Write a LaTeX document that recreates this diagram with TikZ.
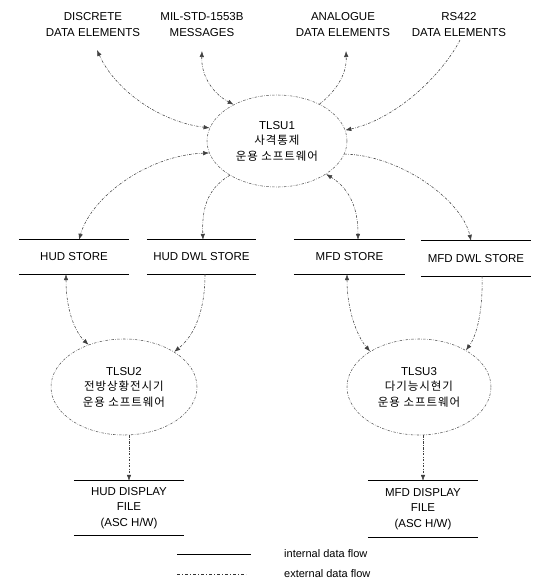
\documentclass[tikz,border=0pt]{standalone}
\usepackage{fontspec}
\setmainfont{Liberation Sans}
\newfontfamily\kr[LetterSpace=8]{Noto Sans CJK KR}
\usetikzlibrary{arrows.meta,shapes.geometric}
\begin{document}
\begin{tikzpicture}[x=1pt,y=-1pt,
  >={Latex[length=6pt,width=4.5pt]},
  ext/.style={line width=0.55pt,dash pattern=on 2.5pt off 1.4pt on 0.6pt off 1.4pt},
  flow/.style={draw=black!75,ext},
  lbl/.style={align=center,font=\fontsize{11.5}{16}\selectfont,inner sep=0pt},
  proc/.style={ellipse,draw=black!65,ext,inner sep=0pt,align=center,font=\fontsize{11.5}{15.5}\selectfont},
  store/.style={minimum width=110pt,inner sep=0pt,align=center,font=\fontsize{11.5}{15.5}\selectfont},
  sline/.style={line width=0.8pt,draw=black}
]
\useasboundingbox (0,0) rectangle (536,579);

% external labels
\node[lbl] (disc) at (93,25) {DISCRETE\\DATA ELEMENTS};
\node[lbl] (mil)  at (202,25) {MIL-STD-1553B\\MESSAGES};
\node[lbl] (ana)  at (343,25) {ANALOGUE\\DATA ELEMENTS};
\node[lbl] (rs)   at (459,25) {RS422\\DATA ELEMENTS};
\coordinate (dA) at (97,50);
\coordinate (mA) at (202,51);
\coordinate (aA) at (346,51);
\coordinate (rA) at (460,40);

% processes
\node[proc,minimum width=140pt,minimum height=92pt] (t1) at (277,141)
  {TLSU1\\{\kr 사격통제}\\{\kr 운용 소프트웨어}};
\node[proc,minimum width=146pt,minimum height=96pt] (t2) at (124,387)
  {TLSU2\\{\kr 전방상황전시기}\\{\kr 운용 소프트웨어}};
\node[proc,minimum width=144pt,minimum height=96pt] (t3) at (419,387)
  {TLSU3\\{\kr 다기능시현기}\\{\kr 운용 소프트웨어}};

% stores
\node[store,minimum height=34pt] (hs) at (74,257) {HUD STORE};
\node[store,minimum height=34pt,minimum width=109pt] (hd) at (201.5,257) {HUD DWL STORE};
\node[store,minimum height=34pt,minimum width=111pt] (ms) at (349.5,257) {MFD STORE};
\node[store,minimum height=35pt] (md) at (476,258.5) {MFD DWL STORE};
\node[store,minimum height=54pt] (hf) at (129,508) {HUD DISPLAY\\FILE\\(ASC H/W)};
\node[store,minimum height=56pt] (mf) at (423,509) {MFD DISPLAY\\FILE\\(ASC H/W)};
\foreach \s in {hs,hd,ms,md,hf,mf}{
  \draw[sline] (\s.north west) -- (\s.north east);
  \draw[sline] (\s.south west) -- (\s.south east);
}

% flows around TLSU1
\draw[flow,<->] (dA) .. controls (115,90) and (160,122) .. (t1.169);
\draw[flow,<->] (mA) .. controls (201,75) and (212,93) .. (t1.140);
\draw[flow,->] (t1.41) .. controls (335,92) and (347,75) .. (aA);
\draw[flow,->] (rA) .. controls (445,70) and (400,118) .. (t1.9.5);
\draw[flow,<->] (t1.190) .. controls (150,155) and (92,195) .. ([xshift=5pt]hs.north);
\draw[flow,->] (t1.216) .. controls (205,190) and (202,212) .. ([xshift=1.5pt]hd.north);
\draw[flow,<->] (t1.326) .. controls (352,190) and (358,212) .. ([xshift=8.5pt]ms.north);
\draw[flow,->] (t1.349.5) .. controls (400,155) and (462,200) .. ([xshift=-5pt]md.north);

% flows to TLSU2 / TLSU3
\draw[flow,<->] ([xshift=-8pt]hs.south) .. controls (66,310) and (75,332) .. (t2.130);
\draw[flow,->] ([xshift=3.5pt]hd.south) .. controls (205,310) and (195,335) .. (t2.35);
\draw[flow,<->] ([xshift=-2.5pt]ms.south) .. controls (347,310) and (357,336) .. (t3.144);
\draw[flow,->] ([xshift=6pt]md.south) .. controls (483,310) and (477,335) .. (t3.38.5);
\draw[flow,->] (hf.north |- t2.south) -- (hf.north);
\draw[flow,->] (mf.north |- t3.south) -- (mf.north);

% legend
\coordinate (li1) at (177,554); \coordinate (li2) at (251,554);
\coordinate (le1) at (177,574); \coordinate (le2) at (246,574);
\draw[line width=0.7pt,black] (li1) -- (li2);
\draw[black!80,line width=0.6pt,dash pattern=on 3pt off 2pt on 1pt off 2pt] (le1) -- (le2);
\node[anchor=west,inner sep=0pt,font=\fontsize{11}{13}\selectfont] (lint) at (284,554) {internal data flow};
\node[anchor=west,inner sep=0pt,font=\fontsize{11}{13}\selectfont] (lext) at (284,574) {external data flow};
\end{tikzpicture}
\end{document}
